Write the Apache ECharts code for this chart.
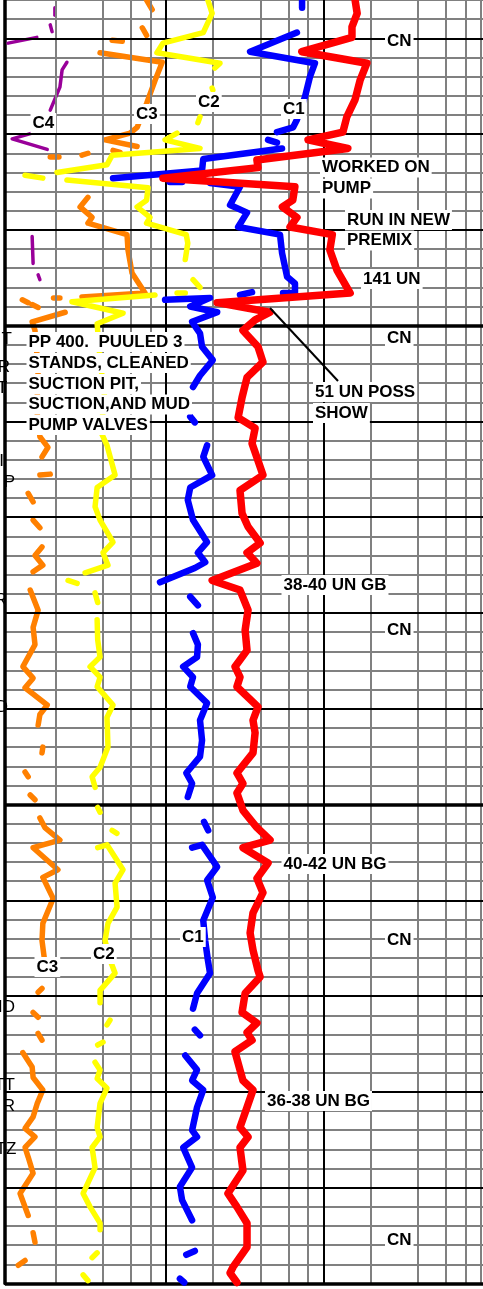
<!DOCTYPE html>
<html><head><meta charset="utf-8">
<script src="https://cdn.jsdelivr.net/npm/echarts@6/dist/echarts.min.js"></script>
<style>html,body{margin:0;padding:0;background:#fff}#c{width:483px;height:1289px}</style>
</head><body><div id="c"></div>
<script>
// ---- axes / grid values ----
const DEPTH_MIN = 16, DEPTH_MAX = 150;           // ft (minor line every 2 ft)
const GAS_MIN = 0.955, GAS_MAX = 1031;           // gas units, log scale
const MINOR_GAS_LINES = [2,4,6,8,20,40,60,80,200,400,600,800,1000];
const DECADE_GAS_LINES = [10,100];
const MAJOR_DEPTH_LINES = [20,30,40,60,70,80,90,110,120,130,140];
const HEAVY_DEPTH_LINES = [50,100,150];

// ---- curves: [gas units, depth ft] ----
const RED_SOLID = [[
[159,16.0],[164,17.4],[152,18.8],[152,19.9],[73,21.4],[189,22.6],[171,24.4],[159,26.4],[141,28.2],[133,29.8],[80,30.6],[143,31.5],[37.9,32.7],[38.5,33.5],[9.6,34.6],[66,35.5],[64,36.9],[55,37.6],[68,38.7],[61.5,39.7],[114,40.5],[110,42.1],[122,44.2],[148,46.6],[21.2,47.6],[45.9,48.6],[36.9,49.4],[30.9,50.5],[38.5,52.2],[41.4,53.8],[32.8,55.4],[30.5,57.5],[28.8,59.6],[36.9,60.7],[35.3,62.3],[41.4,65.6],[29.6,67.2],[30.5,69.6],[33.3,71.0],[39.7,72.7],[32.8,73.7],[37.9,74.8],[19.7,76.6],[29.6,77.6],[33.3,79.7],[31.9,81.8],[32.8,83.9],[27.5,85.6],[29.6,86.7],[28.3,87.7],[38.5,89.8],[35.8,91.2],[36.9,92.5],[35.8,94.6],[28.3,96.7],[30.9,97.8],[28.3,98.8],[30.9,100.6],[37.9,102.4],[45.9,103.7],[30.9,104.5],[44.6,106.1],[37.9,107.7],[41.4,109.2],[35.8,111.3],[34.3,113.4],[35.8,115.2],[38.5,117.3],[39.7,118.0],[31.9,119.7],[30.5,121.7],[37.9,122.8],[32.8,123.8],[35.3,124.6],[27.5,125.8],[29.6,127.7],[30.9,128.8],[35.8,129.8],[32.8,131.6],[29.6,133.7],[33.3,134.7],[29.6,135.8],[30.9,138.2],[24.8,140.6],[28.3,142.0],[32.8,143.7],[32.8,146.2],[26.7,148.3],[25.6,148.9],[28.3,149.9]
]];

const BLUE_SOLID = [
 [[68,19.4],[34.3,21.4],[88.5,22.6],[82.3,24.0],[76.5,26.1],[68,28.5],[64.3,29.3],[50.8,29.8]],
 [[54.7,31.5],[17.3,32.6],[17.0,33.8],[4.63,34.6]],
 [[19.1,35.1],[29.6,35.5],[25.6,37.4],[32.8,38.2],[28.8,39.7],[53.1,40.5],[54.7,42.4],[58.9,44.9],[66.1,45.6],[66.1,46.6],[55.5,46.6]],
 [[9.9,47.3],[19.1,47.1],[14.3,48.0],[21.2,48.6],[14.7,49.6],[16.5,50.8],[17.0,52.2],[19.9,53.6],[16.5,55.2],[14.9,56.4]],
 [[18.3,62.5],[17.3,63.7],[19.7,65.6],[14.3,66.9],[13.8,68.2],[14.9,70.3],[18.3,72.6],[16.0,73.7],[17.8,74.7],[15.3,75.3],[9.2,76.8]],
 [[14.9,82.1],[16.0,83.3],[15.8,84.6],[12.9,85.6],[14.9,86.7],[14.3,87.7],[18.3,89.4],[16.5,91.2],[17.0,93.3],[16.5,95.0],[13.5,96.7],[14.7,97.8],[13.8,99.2]],
 [[14.7,104.5],[17.0,104.2],[21.2,106.5],[18.3,107.9],[19.9,109.7],[17.3,112.1],[17.8,114.2],[18.5,116.2],[19.1,117.6],[15.8,119.7],[14.9,121.3]],
 [[13.3,126.2],[15.8,127.7],[14.7,128.8],[17.3,129.8],[15.8,131.6],[14.7,134.0],[15.8,134.7],[12.9,135.8],[14.7,137.9],[12.3,139.9],[12.7,141.3],[14.7,143.4]]
];
const BLUE_DASH = [
 [[73.3,16.0],[73.3,16.8]],[[44.6,30.6],[50.8,30.9]],[[10.6,35.0],[12.7,35.0]],[[29.6,46.8],[35.3,46.5]],
 [[14.3,59.5],[15.3,60.1]],[[14.3,78.3],[16.0,79.2]],[[17.5,101.8],[18.6,102.7]],[[15.3,123.5],[16.5,124.1]],
 [[13.5,147.0],[15.3,146.6]],[[12.3,149.5],[13.1,149.9]]
];

const YELLOW_SOLID = [
 [[18.5,16.0],[19.7,17.4],[17.3,19.4],[9.6,20.5],[8.8,21.5],[22.1,22.6],[20.5,23.1]],
 [[11.8,29.9],[9.9,30.6],[16.5,31.5],[4.57,32.2],[4.24,33.2],[2.04,34.0]],
 [[2.36,34.8],[7.72,35.6],[7.56,36.9],[6.58,37.6],[7.95,38.7],[7.56,39.3],[13.5,40.5],[13.8,41.4],[13.3,43.1]],
 [[8.55,46.8],[2.54,47.5],[5.36,48.7],[3.67,49.8],[3.83,53.6],[4.12,57.8],[3.83,60.9],[4.24,62.5],[4.77,65.6],[3.67,66.9],[3.56,68.9],[3.83,70.3],[4.63,72.6],[4.0,73.7],[4.3,75.0],[3.08,75.8]],
 [[3.67,80.7],[3.7,82.8],[3.83,84.6],[3.31,85.6],[3.83,86.7],[3.67,87.7],[4.63,89.6],[4.24,90.9],[4.3,94.0],[3.83,96.1],[3.41,97.1],[3.56,98.2]],
 [[3.7,104.5],[4.24,104.2],[5.36,106.8],[4.77,108.2],[4.91,110.7],[4.3,112.4],[4.12,114.2],[4.43,116.2],[4.77,117.6],[3.83,119.4],[3.83,120.7]],
 [[3.56,126.9],[3.83,127.7],[3.67,128.6],[4.24,129.6],[3.83,131.2],[3.67,133.7],[3.83,134.7],[3.41,135.8],[3.56,137.9],[2.99,140.6],[3.31,142.0],[3.83,143.7],[3.83,144.4]]
];
const YELLOW_DASH = [
 [[19.7,25.2],[19.9,25.4]],[[16.5,28.2],[16.0,28.8]],[[1.28,34.3],[1.66,34.6]],[[14.9,45.2],[16.5,46.0]],
 [[11.8,46.6],[13.3,46.6]],[[2.40,76.6],[2.74,76.9]],[[3.56,77.9],[3.7,78.9]],[[3.7,100.3],[3.83,100.8]],
 [[4.57,102.7],[4.9,103.0]],[[4.43,122.5],[4.24,123.0]],[[3.7,125.1],[4.0,124.8]],[[3.67,146.8],[3.41,147.3]],
 [[2.99,149.1],[3.21,149.7]]
];

const ORANGE_SOLID = [
 [[3.83,21.5],[9.5,22.5],[8.55,24.4],[7.56,26.8],[6.58,29.3],[5.94,29.9],[4.12,30.6],[6.58,31.3]],
 [[3.21,36.6],[2.86,37.6],[3.41,38.7],[3.21,39.3],[5.68,40.5],[5.76,42.1],[6.11,44.5],[7.39,46.6],[2.94,47.0]],
 [[2.30,48.6],[1.42,49.6],[1.48,50.5],[1.55,54.6],[1.52,58.8],[1.59,61.6],[1.79,62.7],[1.64,63.7]],
 [[1.64,73.1],[1.48,74.0],[1.66,75.0],[1.44,75.7]],
 [[1.38,77.6],[1.55,79.7],[1.44,81.5],[1.48,83.3],[1.24,85.6],[1.44,86.8],[1.28,87.8],[1.77,89.6],[1.59,90.6],[1.55,91.7]],
 [[1.59,101.4],[1.71,102.4],[2.13,103.7],[1.44,104.5],[2.07,106.8],[1.66,107.6],[1.93,109.8],[1.66,112.4],[1.64,114.2],[1.71,116.5]],
 [[1.24,125.9],[1.42,127.4],[1.44,128.5],[1.66,129.8],[1.53,131.2],[1.44,132.6],[1.28,133.8],[1.48,134.7],[1.28,135.8],[1.34,136.8],[1.44,138.5],[1.19,140.6],[1.34,142.9]]
];
const ORANGE_DASH = [
 [[7.56,16.0],[8.2,17.0]],[[7.1,18.9],[7.56,19.7]],[[4.57,20.2],[5.3,20.3]],[[4.63,31.7],[5.13,31.9]],
 [[2.94,32.2],[3.21,32.0]],[[1.85,32.4],[2.1,32.4]],[[1.94,47.1],[2.13,47.1]],[[1.23,47.3],[1.34,47.6]],
 [[1.42,47.8],[1.55,48.1]],[[1.59,65.6],[1.85,65.5]],[[1.34,67.5],[1.44,68.4]],[[1.44,70.3],[1.59,71.1]],
 [[1.66,94.0],[1.64,94.6]],[[1.28,96.6],[1.34,97.1]],[[1.38,99.0],[1.48,99.5]],[[1.55,119.6],[1.64,119.2]],
 [[1.44,121.7],[1.55,122.2]],[[1.55,123.9],[1.64,124.6]],[[1.44,144.7],[1.48,145.7]],[[1.16,148.1],[1.28,147.6]]
];

const PURPLE_SOLID = [
 [[1.0,20.5],[1.52,19.9]],
 [[2.36,22.5],[2.2,23.3],[2.13,25.1],[1.85,27.5]],
 [[1.42,29.9],[1.06,30.5],[1.77,31.6]]
];
const PURPLE_DASH = [
 [[1.98,16.8],[1.98,17.6]],[[1.85,18.6],[1.9,19.3]],[[1.42,40.7],[1.44,43.5]],[[1.55,44.7],[1.59,45.2]]
];

// ---- build ----
const chart = echarts.init(document.getElementById('c'), null, {renderer:'canvas'});

function segSeries(segs, color, width, z) {
  return segs.map(s => ({
    type:'line', data:s, symbol:'none', showSymbol:false, silent:true, z:z,
    animation:false, lineStyle:{color:color, width:width, cap:'round', join:'round'}
  }));
}

const GRAY = '#808080';
const gridLines = [];
MINOR_GAS_LINES.forEach(v => gridLines.push({xAxis:v, lineStyle:{color:GRAY, width:2, type:'solid'}}));
DECADE_GAS_LINES.forEach(v => gridLines.push({xAxis:v, lineStyle:{color:'#000', width:2, type:'solid'}}));
MAJOR_DEPTH_LINES.forEach(d => gridLines.push({yAxis:d, lineStyle:{color:'#000', width:2, type:'solid'}}));
HEAVY_DEPTH_LINES.forEach(d => gridLines.push({yAxis:d, lineStyle:{color:'#000', width:3.5, type:'solid'}}));

const series = [{
  type:'line', data:[[1,16]], symbol:'none', silent:true, z:2, animation:false,
  lineStyle:{opacity:0},
  markLine:{silent:true, symbol:['none','none'], label:{show:false}, animation:false, data:gridLines}
}]
.concat(segSeries(PURPLE_SOLID, '#990099', 3.5, 3), segSeries(PURPLE_DASH, '#990099', 3.5, 3))
.concat(segSeries(ORANGE_SOLID, '#FF8000', 5.5, 4), segSeries(ORANGE_DASH, '#FF8000', 5.5, 4))
.concat(segSeries(YELLOW_SOLID, '#FFFF00', 5.5, 5), segSeries(YELLOW_DASH, '#FFFF00', 5.5, 5))
.concat(segSeries(BLUE_SOLID, '#0000FF', 6.5, 6), segSeries(BLUE_DASH, '#0000FF', 6.5, 6))
.concat(segSeries(RED_SOLID, '#FF0000', 7.5, 7));

const FONT_B = 'bold 17px "Liberation Sans", Arial, sans-serif';
const FONT_R = '17px "Liberation Sans", Arial, sans-serif';
function note(text, x, y) {
  return {type:'text', z:100, silent:true, style:{text:text, x:x, y:y, font:FONT_B, fill:'#000',
    align:'left', verticalAlign:'middle', backgroundColor:'#fff', padding:[1,2,0,2], lineHeight:19}};
}
function cut(text, x, y) {
  return {type:'text', z:100, silent:true, style:{text:text, x:x, y:y, font:FONT_R, fill:'#000',
    align:'right', verticalAlign:'middle'}};
}

const graphic = [
  {type:'line', z:90, silent:true, shape:{x1:270, y1:308, x2:338, y2:381}, style:{stroke:'#000', lineWidth:2}},
  note('CN', 385, 41.5), note('CN', 385, 338.5), note('CN', 385, 630), note('CN', 385, 940), note('CN', 385, 1240),
  note('WORKED ON', 320, 167.5), note('PUMP', 320, 188.5),
  note('RUN IN NEW', 345, 220), note('PREMIX', 345, 240.5),
  note('141 UN', 361, 279),
  note('PP 400.  PUULED 3', 26.5, 342), note('STANDS, CLEANED', 26.5, 363), note('SUCTION PIT,', 26.5, 384),
  note('SUCTION,AND MUD', 26.5, 404.5), note('PUMP VALVES', 26.5, 425),
  note('51 UN POSS', 313, 392), note('SHOW', 313, 413),
  note('38-40 UN GB', 281.5, 585), note('40-42 UN BG', 281.5, 864), note('36-38 UN BG', 265, 1101),
  note('C4', 30.5, 123), note('C3', 134, 114), note('C2', 196, 102), note('C1', 281, 109),
  note('C1', 180, 937), note('C2', 91, 954), note('C3', 34.5, 967),
  cut('T', 12, 339), cut('R', 10, 367.5), cut('T', 7.5, 388), cut('I', 4, 461), cut('P', 15, 482.5),
  cut('R', 7, 600), cut('D', 8, 707), cut('ID', 15, 1007), cut('TT', 15, 1085), cut('R', 15, 1106), cut('TZ', 16.5, 1149)
];

chart.setOption({
  animation:false,
  backgroundColor:'#fff',
  grid:{left:5, right:0, top:0, bottom:5.5, containLabel:false},
  xAxis:{type:'log', logBase:10, min:GAS_MIN, max:GAS_MAX,
    axisLine:{show:false}, axisTick:{show:false}, axisLabel:{show:false}, splitLine:{show:false}},
  yAxis:{type:'value', inverse:true, min:DEPTH_MIN, max:DEPTH_MAX, interval:2,
    axisLine:{show:true, onZero:false, lineStyle:{color:'#000', width:3.5}},
    axisTick:{show:false}, axisLabel:{show:false},
    splitLine:{show:true, lineStyle:{color:GRAY, width:2}}},
  series:series,
  graphic:graphic
});
</script></body></html>
